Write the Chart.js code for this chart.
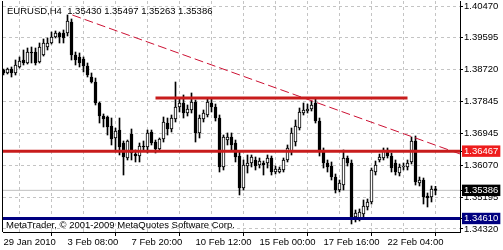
<!DOCTYPE html>
<html><head><meta charset="utf-8">
<script src="https://cdn.jsdelivr.net/npm/chart.js@4.4.1/dist/chart.umd.min.js"></script>
<style>html,body{margin:0;padding:0;background:#fff;}canvas{display:block;}</style>
</head><body>
<canvas id="c" width="503" height="250"></canvas>
<script>
const symbol = 'EURUSD,H4';
const timeLabels = ['29 Jan 2010','3 Feb 08:00','7 Feb 20:00','10 Feb 12:00','15 Feb 00:00','17 Feb 16:00','22 Feb 04:00'];
const priceTicks = [1.40470,1.39595,1.38720,1.37845,1.36945,1.36070,1.35195,1.34320];

const open = [1.38705,1.38622,1.38733,1.38622,1.38788,1.38981,1.38898,1.39201,1.39201,1.38926,
1.39119,1.39339,1.39450,1.39615,1.39725,1.39725,1.39725,1.40029,1.39119,1.39064,
1.39008,1.38815,1.38512,1.38374,1.37795,1.37436,1.37409,1.37161,1.36830,1.37050,
1.36692,1.36278,1.36940,1.36388,1.36333,1.36609,1.36581,1.36995,1.36719,1.36526,
1.36802,1.37243,1.37078,1.37354,1.37685,1.37795,1.37519,1.37602,1.37822,1.36968,
1.37354,1.37464,1.37795,1.37685,1.37381,1.36030,1.36774,1.36857,1.36692,1.36333,
1.35451,1.36057,1.36140,1.36223,1.36085,1.36140,1.36140,1.36278,1.35892,1.35892,
1.35947,1.36223,1.36444,1.36719,1.37105,1.37519,1.37574,1.37629,1.37795,1.37298,
1.36444,1.36140,1.36057,1.35754,1.35396,1.35533,1.36278,1.36140,1.34651,1.34596,
1.34734,1.34927,1.35065,1.35892,1.36223,1.36278,1.36499,1.36333,1.36140,1.35864,
1.36030,1.36030,1.36168,1.36747,1.35589,1.35671,1.35230,1.35202,1.35430];
const high = [1.38733,1.38760,1.38788,1.38981,1.39064,1.39257,1.39312,1.39339,1.39312,1.39450,
1.39560,1.39588,1.39753,1.39781,1.39753,1.39808,1.40222,1.40112,1.39201,1.39174,
1.39064,1.38898,1.38622,1.38484,1.37822,1.37492,1.37436,1.37381,1.37105,1.37381,
1.36747,1.36774,1.37078,1.36499,1.36692,1.36747,1.37050,1.37050,1.36774,1.36830,
1.37409,1.37381,1.37464,1.38374,1.37933,1.38016,1.37740,1.38071,1.37878,1.37464,
1.37602,1.37905,1.37933,1.37767,1.37464,1.36912,1.36968,1.36968,1.36774,1.36444,
1.36223,1.36361,1.36361,1.36306,1.36278,1.36195,1.36361,1.36333,1.36057,1.36030,
1.36278,1.36637,1.37105,1.37326,1.37657,1.37795,1.37767,1.37850,1.37933,1.37381,
1.36554,1.36223,1.36168,1.35837,1.35671,1.36499,1.36333,1.36223,1.34844,1.34872,
1.35120,1.35147,1.36002,1.36195,1.36388,1.36554,1.36554,1.36416,1.36223,1.36113,
1.36140,1.36223,1.36857,1.36885,1.35754,1.35726,1.35313,1.35506,1.35497];
const low = [1.38567,1.38595,1.38512,1.38567,1.38760,1.38843,1.38870,1.38898,1.38843,1.38898,
1.39091,1.39257,1.39422,1.39588,1.39450,1.39450,1.39643,1.38981,1.38843,1.38788,
1.38650,1.38512,1.38346,1.37740,1.37243,1.37133,1.36912,1.36637,1.36444,1.36361,
1.35809,1.36223,1.36223,1.36168,1.36168,1.36499,1.36416,1.36637,1.36416,1.36471,
1.36719,1.36912,1.36995,1.37271,1.37547,1.37381,1.37436,1.37519,1.36719,1.36830,
1.37271,1.37409,1.37547,1.37298,1.35892,1.35947,1.36637,1.36499,1.36168,1.35258,
1.35396,1.35864,1.36030,1.35947,1.36002,1.35809,1.36002,1.35809,1.35837,1.35864,
1.35892,1.36168,1.36361,1.36609,1.37050,1.37464,1.37519,1.37574,1.37243,1.36333,
1.36002,1.35892,1.35671,1.35313,1.35340,1.35396,1.36057,1.34458,1.34513,1.34541,
1.34651,1.34844,1.35009,1.35809,1.36168,1.36223,1.36278,1.35892,1.35809,1.35782,
1.35947,1.35947,1.36113,1.35533,1.35506,1.35009,1.34927,1.35065,1.35263];
const close = [1.38622,1.38733,1.38622,1.38843,1.38953,1.38898,1.39201,1.39174,1.38898,1.39339,
1.39450,1.39450,1.39615,1.39725,1.39615,1.39588,1.40056,1.39119,1.38981,1.38898,
1.38815,1.38567,1.38374,1.37795,1.37436,1.37354,1.37133,1.36802,1.37023,1.36581,
1.36306,1.36747,1.36416,1.36333,1.36609,1.36581,1.36968,1.36692,1.36526,1.36802,
1.37271,1.37078,1.37381,1.37685,1.37795,1.37519,1.37629,1.37822,1.36968,1.37381,
1.37519,1.37822,1.37685,1.37381,1.36030,1.36857,1.36857,1.36637,1.36306,1.35451,
1.36085,1.36140,1.36306,1.36057,1.36195,1.36085,1.36278,1.35892,1.35975,1.35975,
1.36223,1.36554,1.36968,1.37161,1.37547,1.37602,1.37629,1.37740,1.37298,1.36444,
1.36140,1.36030,1.35754,1.35396,1.35589,1.36278,1.36140,1.34651,1.34761,1.34789,
1.34954,1.35065,1.35947,1.36085,1.36306,1.36499,1.36333,1.36002,1.35892,1.36030,
1.36057,1.36140,1.36747,1.35616,1.35671,1.35202,1.35175,1.35423,1.35386];

// horizontal levels / objects
const supportLevel = 1.36467;
const resistLevel = 1.37935;
const resistFromTo = [38, 101];
const lowLevel = 1.34610;
const bidLevel = close[close.length - 1];
const trendBars = [17.2, 114.125];
const trendPrices = [1.40222, 1.36390];

const xMin = -0.125, xMax = 114.125;
const yMin = 1.34237, yMax = 1.40608;
const levelTicks = [supportLevel, bidLevel, lowLevel];
const levelColors = ['#ee1c1c', '#000000', '#000080'];

const idx = open.map((_, i) => i);
const bodies = idx.map(i => ({x: i, y: [open[i], close[i]]}));
const wicks = idx.map(i => ({x: i, y: [low[i], high[i]]}));
const FONT = {family: "'Liberation Sans', Arial, sans-serif", size: 9.5};

const levelIndex = v => levelTicks.findIndex(l => Math.abs(l - v) < 1e-9);

const overlay = {
  id: 'overlay',
  afterDraw(chart) {
    const {ctx, chartArea: a} = chart;
    ctx.save();
    ctx.strokeStyle = '#000'; ctx.lineWidth = 1;
    ctx.beginPath(); ctx.moveTo(a.left - 0.5, a.top); ctx.lineTo(a.left - 0.5, a.bottom); ctx.stroke();
    ctx.fillStyle = '#000';
    ctx.font = "9.5px 'Liberation Sans', Arial, sans-serif";
    ctx.textBaseline = 'middle';
    const n = open.length - 1;
    ctx.fillText(symbol + '  ' + [open[n], high[n], low[n], close[n]].map(v => v.toFixed(5)).join(' '), a.left + 4, a.top + 10);
    ctx.fillText('MetaTrader, \u00A9 2001-2009 MetaQuotes Software Corp.', a.left + 3, a.bottom - 7);
    ctx.restore();
  }
};

const hline = (y, color, width, from, to, order, dash) => ({
  type: 'line', data: [{x: from, y: y}, {x: to, y: y}], borderColor: color, borderWidth: width,
  pointRadius: 0, fill: false, order: order, borderDash: dash || []
});

new Chart(document.getElementById('c'), {
  type: 'bar',
  data: {
    datasets: [
      hline(supportLevel, '#c81c1c', 3, xMin, xMax, 0),
      hline(resistLevel, '#c81c1c', 3, resistFromTo[0], resistFromTo[1], 0),
      hline(lowLevel, '#000080', 3, xMin, xMax, 0),
      {type: 'line', data: trendBars.map((b, k) => ({x: b, y: trendPrices[k]})), borderColor: '#cc1133',
       borderWidth: 1, borderDash: [9, 4], pointRadius: 0, fill: false, order: 0},
      hline(bidLevel, '#c0c0c0', 1, xMin, xMax, 3),
      {type: 'bar', data: bodies, order: 1, grouped: false, barThickness: 3, borderWidth: 1,
       borderColor: '#000', borderSkipped: false,
       backgroundColor: c => close[c.dataIndex] > open[c.dataIndex] ? '#ffffff' : '#000000'},
      {type: 'bar', data: wicks, order: 2, grouped: false, barThickness: 1, borderWidth: 0,
       backgroundColor: '#000'}
    ]
  },
  options: {
    responsive: false, animation: false, events: [],
    layout: {padding: {left: 3, top: 1, right: 0, bottom: 0}},
    plugins: {legend: {display: false}, tooltip: {enabled: false}, title: {display: false}},
    scales: {
      x: {
        type: 'linear', min: xMin, max: xMax, offset: false,
        afterBuildTicks: s => { s.ticks = [0,8,16,24,32,40,48,56,64,72,80,88,96,104,112].map(v => ({value: v})); },
        afterFit: s => { s.height = 18; s.paddingLeft = 0; s.paddingRight = 0; },
        grid: {
          color: c => (c.tick && c.tick.value === 0) ? 'rgba(0,0,0,0)' : '#c4c4c4',
          tickColor: c => (c.tick && c.tick.value % 16 === 0) ? '#000' : 'rgba(0,0,0,0)',
          tickLength: 4, lineWidth: 1
        },
        border: {display: true, color: '#000', width: 1, dash: [3, 3]},
        ticks: {
          autoSkip: false, maxRotation: 0, minRotation: 0, align: 'start', padding: 1,
          color: '#000', font: FONT,
          callback: v => (v % 16 === 0) ? (timeLabels[v / 16] || '') : ''
        }
      },
      y: {
        type: 'linear', position: 'right', min: yMin, max: yMax,
        afterBuildTicks: s => { s.ticks = priceTicks.concat(levelTicks).map(v => ({value: v})); },
        afterFit: s => { s.width = 43; s.paddingTop = 0; s.paddingBottom = 0; },
        grid: {
          color: c => (c.tick && levelIndex(c.tick.value) >= 0) ? 'rgba(0,0,0,0)' : '#c4c4c4',
          tickColor: '#000', tickLength: 3, lineWidth: 1
        },
        border: {display: true, color: '#000', width: 1, dash: [3, 3]},
        ticks: {
          autoSkip: false, padding: 1, font: FONT,
          color: c => (c.tick && levelIndex(c.tick.value) >= 0) ? '#ffffff' : '#000000',
          showLabelBackdrop: c => !!(c.tick && levelIndex(c.tick.value) >= 0),
          backdropColor: c => (c.tick && levelIndex(c.tick.value) >= 0) ? levelColors[levelIndex(c.tick.value)] : 'rgba(0,0,0,0)',
          backdropPadding: {top: 0, bottom: 0, left: 2, right: 2},
          callback: v => Number(v).toFixed(5)
        }
      }
    }
  },
  plugins: [overlay]
});
</script>
</body></html>
